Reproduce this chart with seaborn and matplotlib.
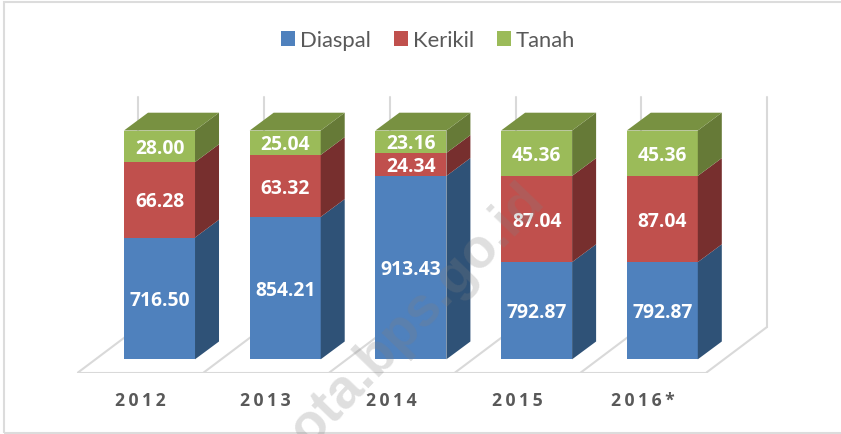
import matplotlib
matplotlib.use("Agg")
import matplotlib.pyplot as plt
import seaborn as sns
import pandas as pd
from matplotlib.patches import Polygon, Rectangle
from matplotlib.transforms import ScaledTranslation

years = ["2012", "2013", "2014", "2015", "2016*"]
# printed values
diaspal_labels = ["716.50", "854.21", "913.43", "792.87", "792.87"]
kerikil_labels = ["66.28", "63.32", "24.34", "87.04", "87.04"]
tanah_labels = ["28.00", "25.04", "23.16", "45.36", "45.36"]
# drawn segment heights (the chart's scale does not follow the printed values)
diaspal_heights = [121.8, 142.4, 183.4, 97.2, 97.2]
kerikil_heights = [75.4, 62.0, 23.0, 86.2, 86.2]
tanah_heights = [31.6, 24.4, 22.4, 45.4, 45.4]

series = ["Diaspal", "Kerikil", "Tanah"]
face = ["#4f81bd", "#c0504d", "#9bbb59"]
side = ["#2f5277", "#772f2e", "#667a37"]
top_face = "#789141"
grid_col = "#d9d9d9"
text_col = "#595959"

W, H = 841, 435
sns.set_style("white")
plt.rcParams["font.family"] = ["Lato", "DejaVu Sans"]
fig = plt.figure(figsize=(W / 100, H / 100), dpi=100)
floor_px, step_px, first_px, base_px = 374, 125.7, 159.5, 360.3
ax = fig.add_axes([0, (H - floor_px) / H, 1, floor_px / H])

heights = [diaspal_heights, kerikil_heights, tanah_heights]
labels = [diaspal_labels, kerikil_labels, tanah_labels]
bottoms = [0.0] * len(years)
depth_x, depth_y = 24 / step_px, 17.8

for name, hs, col, sd, lab in zip(series, heights, face, side, labels):
    df = pd.DataFrame({"year": years, "height": hs})
    sns.barplot(data=df, x="year", y="height", bottom=bottoms, color=col, saturation=1,
                width=0.565, label=name, ax=ax, zorder=3, order=years, errorbar=None,
                linewidth=0, edgecolor=col)
    cont = ax.containers[-1]
    for p in cont.patches:
        x0, x1 = p.get_x(), p.get_x() + p.get_width()
        y0, y1 = p.get_y(), p.get_y() + p.get_height()
        ax.add_patch(Polygon([(x1, y0), (x1 + depth_x, y0 + depth_y), (x1 + depth_x, y1 + depth_y), (x1, y1)],
                             closed=True, fc=sd, ec="none", zorder=3))
        if name == series[-1]:
            ax.add_patch(Polygon([(x0, y1), (x0 + depth_x, y1 + depth_y), (x1 + depth_x, y1 + depth_y), (x1, y1)],
                                 closed=True, fc=top_face, ec="none", zorder=3))
    ax.bar_label(cont, labels=lab, label_type="center", color="white", fontweight="bold",
                 family="Open Sans", fontsize=13.9, zorder=5, padding=-1.2)
    bottoms = [b + h for b, h in zip(bottoms, hs)]

ax.set_xlim(-first_px / step_px, (W - first_px) / step_px)
ax.set_ylim(base_px - floor_px, base_px)

# floor and back wall
edge0 = (78 - first_px) / step_px
wall_dx, wall_y0, wall_y1 = 60.5 / step_px, base_px - 328, base_px - 98
front_y = base_px - floor_px + 0.5
lw = 1.5
ax.plot([edge0, edge0 + 5], [front_y, front_y], color=grid_col, lw=lw, zorder=1, solid_capstyle="round")
for i in range(6):
    e = edge0 + i
    ax.plot([e, e + wall_dx], [front_y, wall_y0], color=grid_col, lw=lw, zorder=1)
    ax.plot([e + wall_dx, e + wall_dx], [wall_y0, wall_y1], color=grid_col, lw=lw, zorder=1)

sns.despine(ax=ax, left=True, bottom=True, right=True, top=True)
ax.set_xlabel("")
ax.set_ylabel("")
ax.set_yticks([])
ax.set_xticks(range(len(years)))
ax.set_xticklabels(["\u2009".join(y) for y in years], fontweight="bold", family="Open Sans",
                   fontsize=12.7, color=text_col)
ax.tick_params(axis="x", length=0, pad=13)
for t in ax.get_xticklabels():
    t.set_transform(t.get_transform() + ScaledTranslation(-19.5 / 100, 0, fig.dpi_scale_trans))
ax.patch.set_alpha(0)

handles = [c for c in ax.containers]
leg = ax.legend(handles, series, ncol=3, frameon=False, fontsize=15.8, labelcolor=text_col,
                loc="center", bbox_to_anchor=(428 / W, 1 - 41 / H), bbox_transform=fig.transFigure,
                handlelength=0.64, handleheight=0.64, handletextpad=0.22, columnspacing=1.05)

# outer frame
fig.add_artist(Rectangle((3.5 / W, 1 / H), 845 / W, 431.5 / H, transform=fig.transFigure,
                         fc="none", ec="#dcdcdc", lw=1.5))

# watermark
fig.text(418 / W, 1 - 315 / H, "ota.bps.go.id", rotation=46, rotation_mode="anchor", ha="center", va="center",
         family="Liberation Sans", fontweight="bold", fontsize=39.5, color="#808080", alpha=0.25, zorder=10)

fig.savefig("out.png", dpi=100)
